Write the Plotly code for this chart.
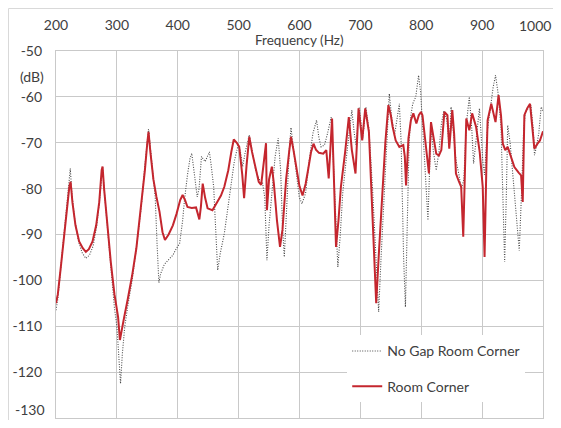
import plotly.graph_objects as go

# ---- data ----
freq_nogap = [200, 203, 208, 213, 218, 222, 223.5, 226, 231, 237, 243, 249, 255, 261, 267, 272, 275, 276.5, 279,
              284, 290, 296, 300, 303, 306, 309, 313, 318, 325, 332, 340, 346, 350, 352, 355, 360, 363, 366,
              369, 372, 378, 385, 392, 398, 403, 408, 411, 416, 420, 423, 427, 432, 435, 439, 445, 449, 452,
              455, 459, 462, 465.6, 470, 476.5, 482, 487, 493, 499.5, 503, 506.6, 511, 517.5, 522, 528, 534,
              539, 543, 546.5, 550, 555.7, 560, 565, 569, 572, 575, 579, 583, 586, 590, 595, 599.5, 604, 610,
              616, 622, 628, 632, 635.5, 641, 646, 652, 655, 659, 663, 667, 671, 678, 686, 690, 693, 698, 704,
              709, 714, 720, 726, 730, 734, 739, 743, 747.5, 751, 756, 760, 764, 767, 771, 774, 777, 780, 783,
              786, 791, 795.6, 799, 802.7, 806, 811, 814, 816, 820, 824.6, 829, 833, 837, 842, 846, 849, 853,
              857, 862, 866, 870, 874, 879, 883, 886, 890, 895.6, 901, 904, 908, 915, 918, 922, 926, 931, 934,
              937, 940, 942, 946, 950, 955, 961, 965, 968, 971, 976, 980, 984, 986, 989, 993, 997, 1000]
db_nogap = [-106.5, -104, -97, -90, -82, -76.5, -75.6, -81, -87, -91.5, -94, -95.2, -94.5, -92.5, -88, -82, -76,
            -75.2, -80, -88, -97, -106, -110, -117, -122.5, -116, -110, -105.5, -100, -93, -84, -75, -69, -67,
            -71, -78, -82, -92, -100.5, -98.5, -96.5, -95.5, -94.5, -93, -92, -87, -82.5, -77, -73.5, -72.3,
            -77, -81.8, -80, -73, -74.1, -73, -72, -75, -79.6, -88, -97.8, -94, -89.8, -84.5, -79.6, -74,
            -70.3, -72, -75.2, -72, -68.3, -72, -76, -78, -78.5, -82, -95.6, -88, -79.6, -73, -69, -76, -88,
            -94.9, -84, -72, -66.7, -71, -76, -81.8, -83.3, -81, -73.8, -68, -65.1, -69, -70.9, -70.5, -68,
            -64.4, -72, -86, -97.1, -90, -81, -72, -62.9, -68, -70.5, -62.2, -69, -62.2, -67, -80, -96, -106.9,
            -95, -81, -70, -59.3, -64, -68.4, -65, -61.5, -70, -95, -105.8, -90, -70.2, -64, -61.5, -60, -55.3,
            -59, -66.5, -75, -86.9, -75, -66.5, -72, -76, -72, -66, -63, -65, -71, -62.2, -68, -73.8, -77, -80,
            -78, -66, -60, -67, -74.5, -70, -62.5, -73.8, -77, -68, -61, -58, -55.3, -59, -66.5, -80, -96, -80,
            -66.2, -70, -76, -84, -93.5, -80, -68, -63.3, -62.5, -61.8, -67, -72.7, -71, -68, -62.2, -63]

freq_room = [200, 203, 208, 213, 218, 222, 224, 227, 232, 238, 244, 249, 254, 260, 266, 271, 275, 276.5, 279,
             284, 290, 296, 299, 302, 305, 307, 309, 312, 318, 325, 332, 340, 346, 350, 352, 355, 360, 365,
             370, 375, 379, 385, 392, 398, 404, 408, 412, 416, 423, 430, 435.5, 438, 441, 445, 449, 457, 465,
             471, 476.5, 483, 488, 492, 497, 501, 506, 509, 513, 517.5, 522, 528, 533, 537, 541, 545, 546.5,
             550, 554.6, 558, 563, 568, 572, 578, 583, 586, 590, 595, 600, 605, 610, 614, 619, 623, 627, 632,
             639, 644, 648, 653.5, 656, 660, 664, 668, 675, 681, 686, 692, 697, 703, 708, 714, 718, 722, 726,
             730, 735.5, 741, 746, 750, 753, 758, 764, 770.5, 773, 775, 779, 783, 787, 792, 796, 799.5, 802,
             807, 812.6, 816, 820, 824.6, 829, 833, 838, 843, 846, 851, 854, 857, 862, 865.6, 869, 872, 874,
             879, 883.6, 890, 896, 901, 904, 907, 909, 915, 922, 927, 931, 934, 938, 942, 948, 953, 960, 964,
             966.7, 969.4, 974, 978.7, 982, 985.8, 991, 995, 1000]
db_room = [-105, -103, -97, -91, -84, -79.5, -78.5, -83, -88, -91.5, -93, -93.8, -93.2, -91.5, -88, -83, -76,
           -75.2, -80, -88, -96, -103, -105.5, -108, -113, -111.5, -109.8, -108, -104, -99, -93, -84, -76, -70,
           -67.6, -72, -78, -81.8, -85, -89.5, -91.2, -90, -88, -85.5, -82.5, -81.4, -82.5, -84, -84.2, -84.1,
           -86.7, -84, -78.9, -82, -84.3, -84.7, -83, -81.5, -79.6, -76, -72, -69.3, -70, -70.9, -77, -82.1,
           -75, -68.7, -72, -76, -78.5, -79.2, -75, -70.1, -84.7, -78, -75.2, -79, -87, -92.7, -89, -78, -72,
           -68.7, -71.5, -76, -79.5, -81.5, -79, -76, -72, -70.2, -71.5, -72.2, -72.4, -71.6, -77.8, -64.7,
           -75, -92.7, -87, -79.6, -72, -64.4, -71.6, -76.7, -62.5, -69.5, -62.5, -67.6, -80, -92, -105, -95,
           -81, -70, -61.8, -64, -66.5, -69.5, -70.9, -70.5, -73, -79.3, -69, -65.1, -63.6, -65.8, -64, -63.3,
           -64, -70, -76.7, -65.5, -69, -72.4, -72.8, -71.6, -63.3, -64, -71.3, -62.9, -68, -76.7, -78.5,
           -79.6, -90.5, -75, -64.7, -67.3, -63.6, -66.5, -72, -79.6, -94.9, -75, -65.1, -61.5, -65.5, -59.6,
           -64, -70.2, -71.6, -70.9, -73.5, -75.3, -76.5, -77.1, -82.9, -64, -62.5, -61.5, -66, -71.3, -70.2,
           -69.5, -67.5]

x_ticks = [200, 300, 400, 500, 600, 700, 800, 900, 1000]
y_ticks = [-50, -60, -70, -80, -90, -100, -110, -120, -130]

series_names = ["No Gap Room Corner", "Room Corner"]

GRID = "#c9c9c9"
TEXT = "#404040"
FONT = "Lato"

# the outermost tick labels ("1000" and "-130") would spill past the figure
# edge, so they are drawn as annotations pulled just inside it
x_ticktext = [str(v) for v in x_ticks[:-1]] + [""]
y_ticktext = [str(v) for v in y_ticks[:-1]] + [""]

fig = go.Figure()
fig.add_trace(go.Scatter(
    x=freq_nogap, y=db_nogap, mode="lines", name=series_names[0],
    line=dict(color="#4a4a4a", width=1.1, dash="1px,1.5px"), legendgroup="a"))
fig.add_trace(go.Scatter(
    x=freq_room, y=db_room, mode="lines", name=series_names[1],
    line=dict(color="#c4262e", width=2), legendgroup="b"))

# the page body has an 8px margin; the figure is sized so that page = 561x428
fig.update_layout(
    width=545, height=412,
    margin=dict(l=48, r=10, t=43, b=2),
    paper_bgcolor="white", plot_bgcolor="white",
    font=dict(family=FONT, size=14, color=TEXT),
    showlegend=True,
    legend=dict(
        x=0.598, y=0.225, xanchor="left", yanchor="top",
        bgcolor="white", borderwidth=0,
        font=dict(family=FONT, size=14, color=TEXT),
        tracegroupgap=14, itemwidth=30,
    ),
    xaxis=dict(
        range=[200, 1000], tickvals=x_ticks, ticktext=x_ticktext,
        side="top", showgrid=True, gridcolor=GRID, gridwidth=1.2,
        showline=True, linecolor=GRID, linewidth=1.2, mirror=True,
        ticks="outside", ticklen=14, tickcolor="rgba(0,0,0,0)",
        zeroline=False, tickfont=dict(size=14, color=TEXT),
    ),
    yaxis=dict(
        range=[-130, -50], tickvals=y_ticks, ticktext=y_ticktext,
        showgrid=True, gridcolor=GRID, gridwidth=1.2,
        showline=True, linecolor=GRID, linewidth=1.2, mirror=True,
        ticks="outside", ticklen=10, tickcolor="rgba(0,0,0,0)",
        zeroline=False, tickfont=dict(size=14, color=TEXT),
    ),
    annotations=[
        dict(text=str(x_ticks[-1]), xref="paper", yref="paper", x=1, y=1,
             xanchor="right", yanchor="middle", xshift=10, yshift=26, showarrow=False,
             font=dict(family=FONT, size=14, color=TEXT)),
        dict(text=str(y_ticks[-1]), xref="paper", yref="paper", x=0, y=0,
             xanchor="right", yanchor="bottom", xshift=-9, yshift=-2, showarrow=False,
             font=dict(family=FONT, size=14, color=TEXT)),
        dict(text="Frequency (Hz)", xref="paper", yref="paper", x=0.5, y=1.0,
             xanchor="center", yanchor="bottom", yshift=1, showarrow=False,
             font=dict(family=FONT, size=13.5, color=TEXT)),
        dict(text="(dB)", xref="paper", yref="paper", x=0, y=0.93,
             xanchor="right", yanchor="middle", xshift=-10, showarrow=False,
             font=dict(family=FONT, size=14, color=TEXT)),
    ],
    shapes=[
        dict(type="rect", xref="paper", yref="paper", x0=-0.0975, x1=1.2, y0=-0.05, y1=1.1158,
             line=dict(color="#d9d9d9", width=1), fillcolor="rgba(0,0,0,0)", layer="below"),
    ],
)

fig.write_html("out.html", config={"displayModeBar": False})
